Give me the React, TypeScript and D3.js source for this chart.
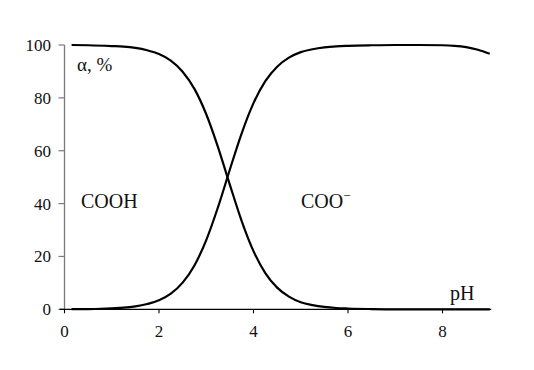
import React from "react";
import * as d3 from "d3";

const pH = [0.15, 0.5, 1, 1.25, 1.5, 1.75, 2, 2.25, 2.5, 2.75, 3, 3.25, 3.5, 3.75, 4, 4.25, 4.5, 4.75, 5, 5.25, 5.5, 5.75, 6, 6.5, 7, 7.5, 8, 8.25, 8.5, 8.75, 9];
const cooh = [100, 99.9, 99.6, 99.4, 98.9, 98.0, 96.6, 94.1, 89.9, 83.4, 73.8, 61.3, 47.1, 33.4, 22.0, 13.7, 8.2, 4.8, 2.7, 1.6, 0.9, 0.5, 0.3, 0.1, 0, 0, 0, 0, 0, 0, 0];
const coo = [0.1, 0.1, 0.4, 0.6, 1.1, 2.0, 3.4, 5.9, 10.1, 16.6, 26.2, 38.7, 52.9, 66.6, 78.0, 86.3, 91.8, 95.2, 97.3, 98.4, 99.1, 99.5, 99.7, 99.9, 100, 100, 99.9, 99.7, 99.2, 98.2, 96.7];
const xTicks = [0, 2, 4, 6, 8];
const yTicks = [0, 20, 40, 60, 80, 100];

const W = 534;
const H = 370;
const FONT = "Liberation Serif, Times New Roman, DejaVu Serif, serif";

export default function App() {
  const x = d3.scaleLinear().domain([0, 8]).range([64.5, 442.5]);
  const y = d3.scaleLinear().domain([0, 100]).range([309.3, 45]);
  const x0 = x(0);
  const y0 = y(0);
  const line = d3
    .line<number>()
    .x((_, i) => x(pH[i]))
    .y((d) => y(d))
    .curve(d3.curveMonotoneX);
  const ts = { fontFamily: FONT };

  return (
    <svg
      width={W}
      height={H}
      style={{ position: "absolute", left: 0, top: 0, background: "#fff", fontFamily: FONT }}
    >
      {/* y axis */}
      <line x1={x0} x2={x0} y1={y(100)} y2={y0} stroke="#7a7a7a" strokeWidth={1.3} />
      {yTicks.map((t) => (
        <g key={"y" + t}>
          <line x1={x0 - 6} x2={x0} y1={y(t)} y2={y(t)} stroke="#7a7a7a" strokeWidth={1.2} />
          <text x={51} y={y(t)} dy="0.35em" textAnchor="end" fontSize={17} fill="#111" style={ts}>
            {t}
          </text>
        </g>
      ))}
      {/* x axis */}
      <line x1={x0 - 5} x2={x(9) + 1.5} y1={y0} y2={y0} stroke="#000" strokeWidth={1.3} />
      {xTicks.map((t) => (
        <g key={"x" + t}>
          <line x1={x(t)} x2={x(t)} y1={y0} y2={y0 + 4} stroke="#000" strokeWidth={1.1} />
          <text x={x(t)} y={336.5} textAnchor="middle" fontSize={17} fill="#111" style={ts}>
            {t}
          </text>
        </g>
      ))}
      {/* curves */}
      <path d={line(cooh) || ""} fill="none" stroke="#000" strokeWidth={2.2} />
      <path d={line(coo) || ""} fill="none" stroke="#000" strokeWidth={2.2} />
      {/* labels */}
      <text x={77} y={71} fontSize={19} fill="#111" style={ts}>
        α, %
      </text>
      <text x={81} y={208} fontSize={20} fill="#111" style={ts}>
        COOH
      </text>
      <text x={301} y={208} fontSize={20} fill="#111" style={ts}>
        COO
        <tspan dy={-8} fontSize={13}>−</tspan>
      </text>
      <text x={450} y={300} fontSize={20} fill="#111" style={ts}>
        pH
      </text>
    </svg>
  );
}
